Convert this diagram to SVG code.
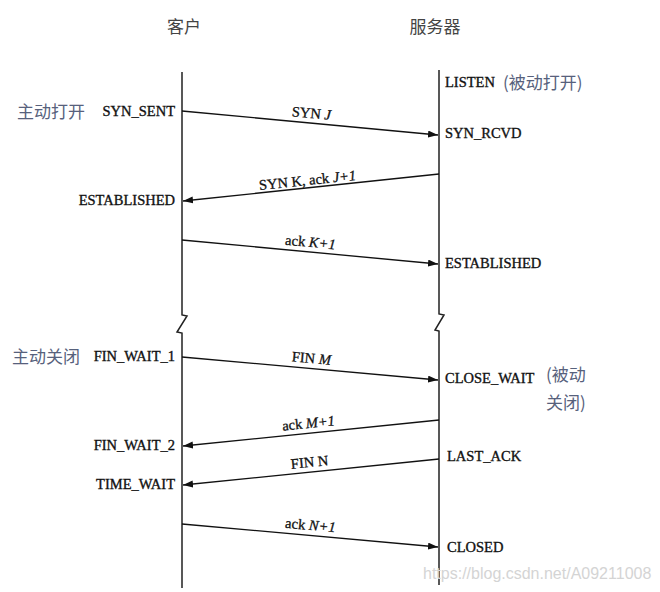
<svg xmlns="http://www.w3.org/2000/svg" width="660" height="592" viewBox="0 0 660 592">
<style>
.bg{fill:#fff}
.life{fill:none;stroke:#222;stroke-width:1.5}
.msg{fill:none;stroke:#111;stroke-width:1.3}
.st{font-family:"Liberation Serif","Times New Roman",serif;font-size:14.5px;fill:#111;stroke:#111;stroke-width:0.35}
.lbl{font-family:"Liberation Serif","Times New Roman",serif;font-size:14.5px;fill:#111;stroke:#111;stroke-width:0.3}
.it{font-style:italic}
.hd{font-family:"Noto Sans CJK SC","Noto Sans",sans-serif;font-size:17px;fill:#444}
.cn{font-family:"Noto Sans CJK SC","Noto Sans",sans-serif;font-size:17px;fill:#57617c}
.wm{font-family:"Liberation Sans",Arial,sans-serif;font-size:16px;fill:#d4d4d4}
</style>
<defs>
<marker id="ah" markerUnits="userSpaceOnUse" markerWidth="11" markerHeight="8" refX="10" refY="3.5" orient="auto">
<path d="M0,0 L10,3.5 L0,7 z" fill="#111"/>
</marker>
</defs>
<rect class="bg" x="0" y="0" width="660" height="592"/>

<g id="client">
<text class="hd" x="184" y="33" text-anchor="middle">客户</text>
<path class="life" d="M182,72 V315 L187,316 L177,332 L182,333 V588"/>
</g>
<g id="server">
<text class="hd" x="435" y="33" text-anchor="middle">服务器</text>
<path class="life" d="M439,70 V314 L444,315 L435,330 L439,331 V585"/>
</g>

<g id="active-open"><text class="cn" x="17" y="118">主动打开</text></g>
<g id="syn-sent"><text class="st" x="175" y="116" text-anchor="end">SYN_SENT</text></g>
<g id="established-c"><text class="st" x="175" y="205" text-anchor="end">ESTABLISHED</text></g>
<g id="active-close"><text class="cn" x="12" y="363">主动关闭</text></g>
<g id="fin-wait-1"><text class="st" x="175" y="361" text-anchor="end">FIN_WAIT_1</text></g>
<g id="fin-wait-2"><text class="st" x="175" y="450" text-anchor="end">FIN_WAIT_2</text></g>
<g id="time-wait"><text class="st" x="175" y="489" text-anchor="end">TIME_WAIT</text></g>

<g id="listen"><text class="st" x="445" y="87">LISTEN</text><text class="cn" x="503" y="89">(被动打开)</text></g>
<g id="syn-rcvd"><text class="st" x="445" y="138">SYN_RCVD</text></g>
<g id="established-s"><text class="st" x="445" y="268">ESTABLISHED</text></g>
<g id="close-wait"><text class="st" x="445" y="383">CLOSE_WAIT</text><text class="cn" x="546" y="381">(被动</text><text class="cn" x="546" y="409">关闭)</text></g>
<g id="last-ack"><text class="st" x="447" y="461">LAST_ACK</text></g>
<g id="closed"><text class="st" x="447" y="552">CLOSED</text></g>

<g id="connectors">
<line class="msg" x1="182" y1="111" x2="438" y2="135" marker-end="url(#ah)"/>
<line class="msg" x1="439" y1="174" x2="183" y2="201" marker-end="url(#ah)"/>
<line class="msg" x1="182" y1="240" x2="438" y2="264" marker-end="url(#ah)"/>
<line class="msg" x1="182" y1="357" x2="438" y2="380" marker-end="url(#ah)"/>
<line class="msg" x1="439" y1="420" x2="183" y2="446" marker-end="url(#ah)"/>
<line class="msg" x1="439" y1="459" x2="183" y2="485" marker-end="url(#ah)"/>
<line class="msg" x1="182" y1="524" x2="438" y2="547" marker-end="url(#ah)"/>

<text class="lbl" text-anchor="middle" transform="translate(311,118) rotate(5.3)">SYN <tspan class="it">J</tspan></text>
<text class="lbl" text-anchor="middle" transform="translate(308,185) rotate(-6)">SYN K, ack <tspan class="it">J+1</tspan></text>
<text class="lbl" text-anchor="middle" transform="translate(310,247) rotate(5.3)">ack <tspan class="it">K+1</tspan></text>
<text class="lbl" text-anchor="middle" transform="translate(311,363) rotate(5.1)">FIN <tspan class="it">M</tspan></text>
<text class="lbl" text-anchor="middle" transform="translate(309,428) rotate(-5.8)">ack <tspan class="it">M+1</tspan></text>
<text class="lbl" text-anchor="middle" transform="translate(310,467) rotate(-5.8)">FIN N</text>
<text class="lbl" text-anchor="middle" transform="translate(310,530) rotate(5.1)">ack <tspan class="it">N+1</tspan></text>
</g>

<text class="wm" x="423" y="579">https://blog.csdn.net/A09211008</text>
</svg>
